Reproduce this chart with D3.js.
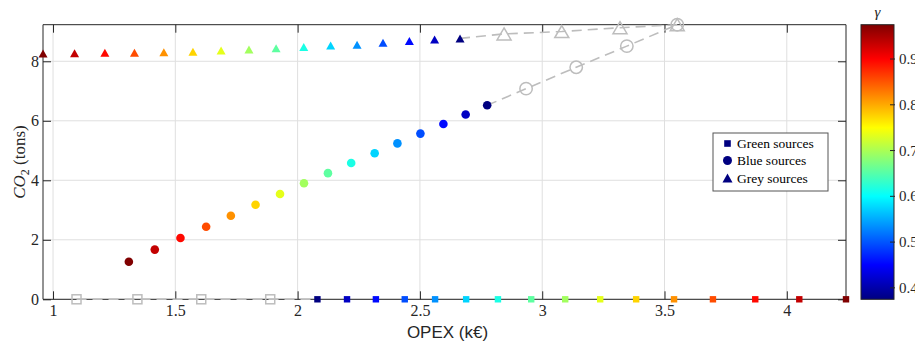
<!DOCTYPE html>
<html>
<head>
<meta charset="utf-8">
<script src="https://cdn.jsdelivr.net/npm/d3@7"></script>
<style>
  html, body { margin: 0; padding: 0; background: #fff; }
  svg { display: block; }
</style>
</head>
<body>
<svg id="chart" width="915" height="344"></svg>
<script>
// gamma level of each coloured point (shared colour scale)
const gammaLevels = [0.375, 0.415, 0.455, 0.495, 0.535, 0.575, 0.615, 0.655,
                     0.695, 0.735, 0.775, 0.815, 0.855, 0.895, 0.935, 0.975];

// Green sources (squares), left to right
const greenX = [2.081, 2.202, 2.320, 2.438, 2.562, 2.689, 2.819, 2.955,
                3.094, 3.237, 3.384, 3.539, 3.698, 3.871, 4.051, 4.242];
const greenY = [0, 0, 0, 0, 0, 0, 0, 0, 0, 0, 0, 0, 0, 0, 0, 0];
const greenGamma = [0.375, 0.415, 0.455, 0.495, 0.535, 0.575, 0.615, 0.655,
                    0.695, 0.735, 0.775, 0.815, 0.855, 0.895, 0.935, 0.975];
const greenRefX = [1.096, 1.345, 1.606, 1.888];
const greenRefY = [0, 0, 0, 0];

// Blue sources (circles), left to right
const blueX = [1.310, 1.416, 1.521, 1.626, 1.727, 1.828, 1.928, 2.026,
               2.124, 2.219, 2.315, 2.408, 2.502, 2.596, 2.687, 2.775];
const blueY = [1.26, 1.67, 2.06, 2.44, 2.81, 3.18, 3.54, 3.90,
               4.24, 4.58, 4.91, 5.24, 5.57, 5.89, 6.21, 6.52];
const blueGamma = [0.975, 0.935, 0.895, 0.855, 0.815, 0.775, 0.735, 0.695,
                   0.655, 0.615, 0.575, 0.535, 0.495, 0.455, 0.415, 0.375];
const blueRefX = [2.934, 3.139, 3.346, 3.552];
const blueRefY = [7.08, 7.80, 8.51, 9.23];

// Grey sources (triangles), left to right
const greyX = [0.959, 1.088, 1.212, 1.333, 1.453, 1.572, 1.687, 1.801,
               1.912, 2.025, 2.135, 2.243, 2.349, 2.457, 2.560, 2.664];
const greyY = [8.26, 8.27, 8.29, 8.29, 8.30, 8.32, 8.36, 8.40,
               8.44, 8.48, 8.53, 8.56, 8.62, 8.68, 8.73, 8.77];
const greyGamma = [0.975, 0.935, 0.895, 0.855, 0.815, 0.775, 0.735, 0.695,
                   0.655, 0.615, 0.575, 0.535, 0.495, 0.455, 0.415, 0.375];
const greyRefX = [2.844, 3.080, 3.318, 3.552];
const greyRefY = [8.92, 9.00, 9.13, 9.23];

// Axis ticks
const xTicks = [1, 1.5, 2, 2.5, 3, 3.5, 4];
const xTickLabels = ["1", "1.5", "2", "2.5", "3", "3.5", "4"];
const yTicks = [0, 2, 4, 6, 8];
const yTickLabels = ["0", "2", "4", "6", "8"];
const cTicks = [0.4, 0.5, 0.6, 0.7, 0.8, 0.9];
const cTickLabels = ["0.4", "0.5", "0.6", "0.7", "0.8", "0.9"];

const legendLabels = ["Green sources", "Blue sources", "Grey sources"];

// ---------------------------------------------------------------
const svg = d3.select("#chart");
const plot = { left: 43, right: 846, top: 24.7, bottom: 299.3 };
const cbar = { left: 861, right: 894 };
const serif = "'Liberation Serif', 'DejaVu Serif', serif";
const sans = "'Liberation Sans', Arial, sans-serif";
const axisCol = "#262626";
const refCol = "#bdbdbd";

const allX = [].concat(greenX, greenRefX, blueX, blueRefX, greyX, greyRefX);
const allY = [].concat(greenY, greenRefY, blueY, blueRefY, greyY, greyRefY);

const x = d3.scaleLinear().domain(d3.extent(allX)).range([plot.left, plot.right]);
const y = d3.scaleLinear().domain([0, d3.max(allY)]).range([plot.bottom, plot.top]);
const g = d3.scaleLinear().domain(d3.extent(gammaLevels)).range([plot.bottom, plot.top]);

// MATLAB-style jet colormap
function jet(t) {
  const c = v => Math.max(0, Math.min(1, v));
  const r = c(1.5 - Math.abs(4 * t - 3));
  const gg = c(1.5 - Math.abs(4 * t - 2));
  const b = c(1.5 - Math.abs(4 * t - 1));
  return d3.rgb(r * 255, gg * 255, b * 255).formatHex();
}
const gDom = d3.extent(gammaLevels);
const colorOf = v => jet((v - gDom[0]) / (gDom[1] - gDom[0]));

// grid
const grid = svg.append("g").attr("stroke", "#dfdfdf").attr("stroke-width", 1);
grid.selectAll(".gx").data(xTicks).join("line")
  .attr("x1", d => x(d)).attr("x2", d => x(d))
  .attr("y1", plot.top).attr("y2", plot.bottom);
grid.selectAll(".gy").data(yTicks).join("line")
  .attr("x1", plot.left).attr("x2", plot.right)
  .attr("y1", d => y(d)).attr("y2", d => y(d));

// axes with inward ticks on all four sides
const tickLen = 8;
const xAxisB = d3.axisBottom(x).tickValues(xTicks).tickSize(-tickLen).tickPadding(5)
  .tickFormat((d, i) => xTickLabels[i]);
const xAxisT = d3.axisTop(x).tickValues(xTicks).tickSize(-tickLen).tickFormat("");
const yAxisL = d3.axisLeft(y).tickValues(yTicks).tickSize(-tickLen).tickPadding(4)
  .tickFormat((d, i) => yTickLabels[i]);
const yAxisR = d3.axisRight(y).tickValues(yTicks).tickSize(-tickLen).tickFormat("");

function styleAxis(sel) {
  sel.selectAll("path").attr("stroke", axisCol).attr("stroke-width", 1);
  sel.selectAll("line").attr("stroke", axisCol).attr("stroke-width", 1);
  sel.selectAll("text").attr("fill", "#262626").style("font-family", serif).style("font-size", "16px");
}
svg.append("g").attr("transform", `translate(0,${plot.bottom})`).call(xAxisB).call(styleAxis)
  .call(s => s.selectAll("path").attr("d", `M${plot.left},0H${plot.right}`));
svg.append("g").attr("transform", `translate(0,${plot.top})`).call(xAxisT).call(styleAxis)
  .call(s => s.selectAll("path").attr("d", `M${plot.left},0H${plot.right}`));
svg.append("g").attr("transform", `translate(${plot.left},0)`).call(yAxisL).call(styleAxis)
  .call(s => s.selectAll("path").attr("d", `M0,${plot.top}V${plot.bottom}`));
svg.append("g").attr("transform", `translate(${plot.right},0)`).call(yAxisR).call(styleAxis)
  .call(s => s.selectAll("path").attr("d", `M0,${plot.top}V${plot.bottom}`));

// axis titles
svg.append("text")
  .attr("x", (plot.left + plot.right) / 2 + 3).attr("y", 338)
  .attr("text-anchor", "middle")
  .style("font-family", sans).style("font-size", "17px").attr("fill", "#262626")
  .text("OPEX (k€)");

const yl = svg.append("text")
  .attr("transform", `translate(25,${(plot.top + plot.bottom) / 2}) rotate(-90)`)
  .attr("text-anchor", "middle")
  .style("font-family", serif).style("font-size", "17px").attr("fill", "#262626");
yl.append("tspan").style("font-style", "italic").text("CO");
yl.append("tspan").attr("dy", 4).style("font-size", "12px").text("2");
yl.append("tspan").attr("dy", -4).text(" (tons)");

// reference (grey) dashed lines with hollow markers
const line = d3.line().x(d => x(d[0])).y(d => y(d[1]));
const dash = "10,6";
function refLine(xs, ys) {
  svg.append("path")
    .datum(xs.map((v, i) => [v, ys[i]]))
    .attr("d", line)
    .attr("fill", "none").attr("stroke", refCol)
    .attr("stroke-width", 1.6).attr("stroke-dasharray", dash);
}
refLine(greenRefX.concat([greenX[0]]), greenRefY.concat([greenY[0]]));
refLine([blueX[blueX.length - 1]].concat(blueRefX), [blueY[blueY.length - 1]].concat(blueRefY));
refLine([greyX[greyX.length - 1]].concat(greyRefX), [greyY[greyY.length - 1]].concat(greyRefY));

const tri = (w, h) => `M0,${-h / 2}L${w / 2},${h / 2}L${-w / 2},${h / 2}Z`;

// hollow reference markers
svg.append("g").selectAll("rect").data(greenRefX).join("rect")
  .attr("x", (d) => x(d) - 4.5).attr("y", (d, i) => y(greenRefY[i]) - 4.5)
  .attr("width", 9).attr("height", 9)
  .attr("fill", "none").attr("stroke", refCol).attr("stroke-width", 1.5);
svg.append("g").selectAll("circle").data(blueRefX).join("circle")
  .attr("cx", d => x(d)).attr("cy", (d, i) => y(blueRefY[i])).attr("r", 6.2)
  .attr("fill", "none").attr("stroke", refCol).attr("stroke-width", 1.5);
svg.append("g").selectAll("path").data(greyRefX).join("path")
  .attr("transform", (d, i) => `translate(${x(d)},${y(greyRefY[i])})`)
  .attr("d", tri(14, 12))
  .attr("fill", "none").attr("stroke", refCol).attr("stroke-width", 1.5);

// coloured markers
svg.append("g").selectAll("rect").data(greenX).join("rect")
  .attr("x", d => x(d) - 3.2).attr("y", (d, i) => y(greenY[i]) - 3.2)
  .attr("width", 6.4).attr("height", 6.4)
  .attr("fill", (d, i) => colorOf(greenGamma[i]));
svg.append("g").selectAll("circle").data(blueX).join("circle")
  .attr("cx", d => x(d)).attr("cy", (d, i) => y(blueY[i])).attr("r", 4.3)
  .attr("fill", (d, i) => colorOf(blueGamma[i]));
svg.append("g").selectAll("path").data(greyX).join("path")
  .attr("transform", (d, i) => `translate(${x(d)},${y(greyY[i])})`)
  .attr("d", tri(9, 8))
  .attr("fill", (d, i) => colorOf(greyGamma[i]));

// legend
const lg = svg.append("g").attr("transform", "translate(713,133)");
lg.append("rect").attr("x", 0).attr("y", 0).attr("width", 115).attr("height", 58)
  .attr("fill", "#fff").attr("stroke", "#555").attr("stroke-width", 1);
const navy = jet(0);
const rows = [10.5, 27.5, 45];
lg.append("rect").attr("x", 14.5 - 3.3).attr("y", rows[0] - 3.3).attr("width", 6.6).attr("height", 6.6).attr("fill", navy);
lg.append("circle").attr("cx", 14.5).attr("cy", rows[1]).attr("r", 4.5).attr("fill", navy);
lg.append("path").attr("transform", `translate(14.5,${rows[2]})`).attr("d", tri(10, 9)).attr("fill", navy);
lg.selectAll("text").data(legendLabels).join("text")
  .attr("x", 24).attr("y", (d, i) => rows[i] + 4.5)
  .style("font-family", serif).style("font-size", "13.5px").attr("fill", "#000")
  .text(d => d);

// colorbar
const defs = svg.append("defs");
const grad = defs.append("linearGradient").attr("id", "jetGrad")
  .attr("x1", 0).attr("y1", 1).attr("x2", 0).attr("y2", 0);
[0, 0.125, 0.375, 0.625, 0.875, 1].forEach(t => {
  grad.append("stop").attr("offset", t).attr("stop-color", jet(t));
});
svg.append("rect")
  .attr("x", cbar.left).attr("y", plot.top)
  .attr("width", cbar.right - cbar.left).attr("height", plot.bottom - plot.top)
  .attr("fill", "url(#jetGrad)").attr("stroke", axisCol).attr("stroke-width", 1);
const cg = svg.append("g");
cg.selectAll("line").data(cTicks).join("line")
  .attr("x1", cbar.right - 4).attr("x2", cbar.right + 1)
  .attr("y1", d => g(d)).attr("y2", d => g(d))
  .attr("stroke", axisCol).attr("stroke-width", 1);
cg.selectAll("text").data(cTicks).join("text")
  .attr("x", cbar.right + 5).attr("y", d => g(d) + 5)
  .style("font-family", serif).style("font-size", "15px").attr("fill", "#262626")
  .text((d, i) => cTickLabels[i]);
svg.append("text")
  .attr("x", (cbar.left + cbar.right) / 2).attr("y", 17)
  .attr("text-anchor", "middle")
  .style("font-family", serif).style("font-size", "15px").style("font-style", "italic").attr("fill", "#262626")
  .text("γ");
</script>
</body>
</html>
